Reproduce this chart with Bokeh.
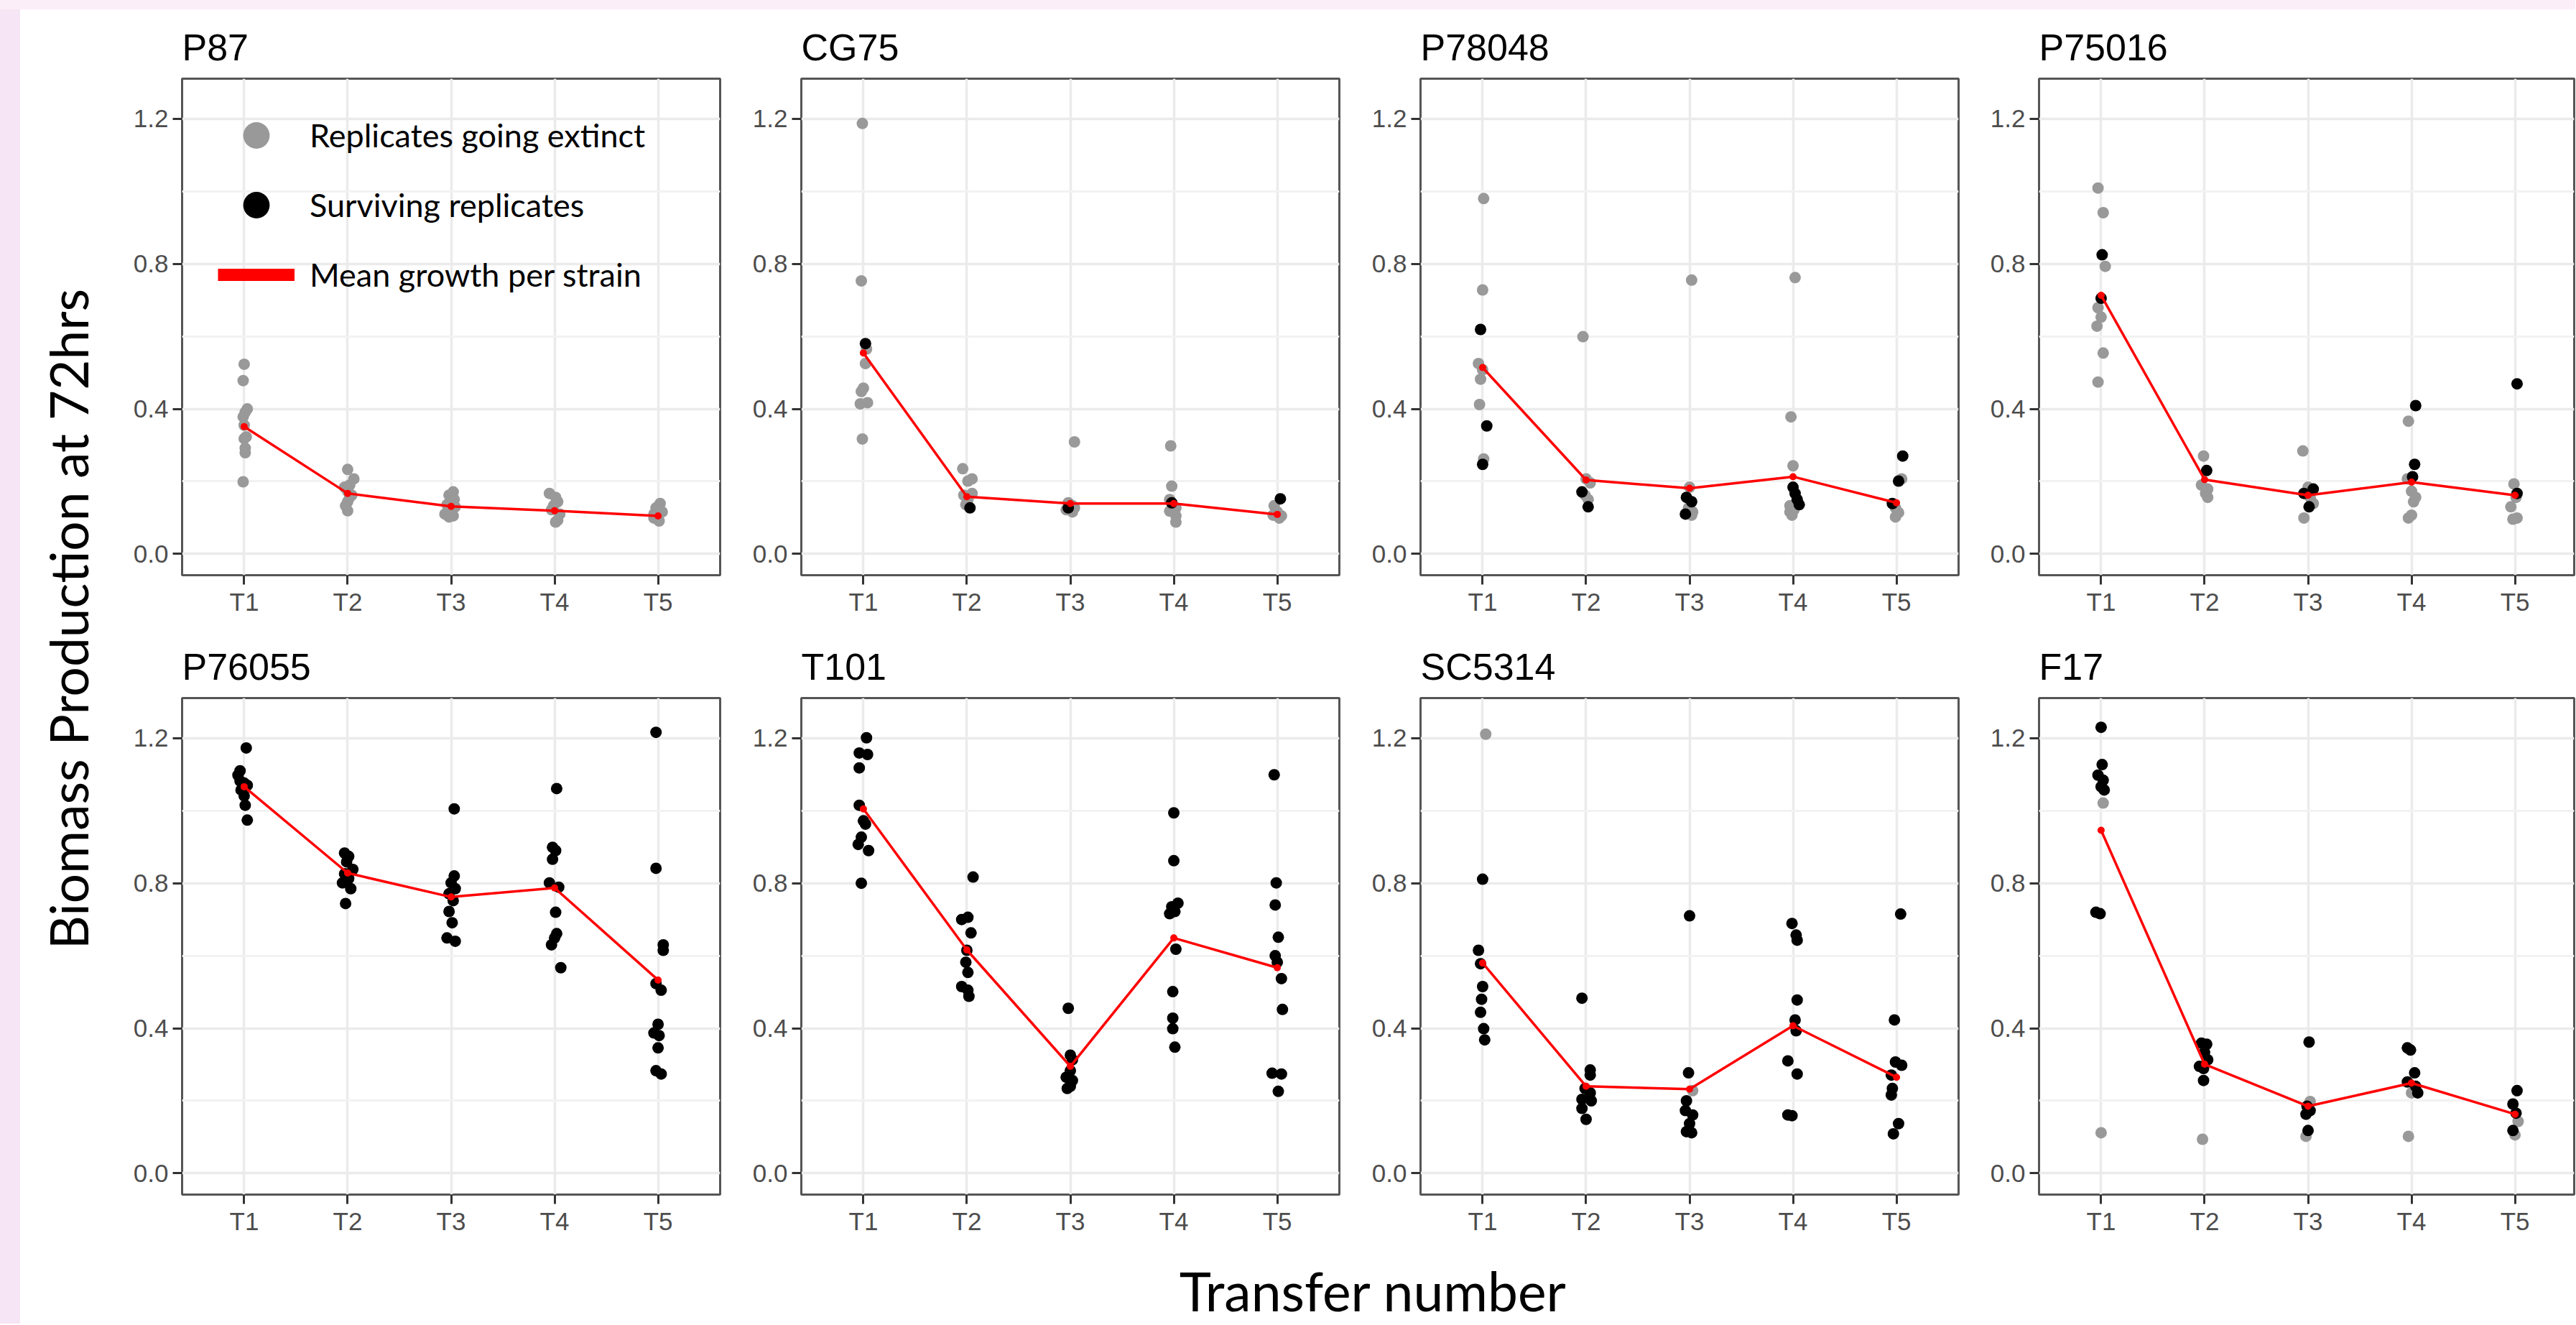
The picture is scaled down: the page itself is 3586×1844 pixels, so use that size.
import math
from bokeh.plotting import figure
from bokeh.models import (Range1d, FixedTicker, PrintfTickFormatter, Label,
                          Legend, LegendItem, ColumnDataSource, Spacer)
from bokeh.layouts import row, column
from bokeh.embed import file_html
from bokeh.resources import INLINE

transfers = ["T1", "T2", "T3", "T4", "T5"]
y_ticks = [0.0, 0.4, 0.8, 1.2]
y_minor = [0.2, 0.6, 1.0]

# each point: (transfer, horizontal jitter, biomass)
P87_extinct = [
    ("T1", 0.00, 0.523), ("T1", -0.01, 0.478), ("T1", 0.03, 0.400), ("T1", 0.01, 0.391),
    ("T1", -0.01, 0.378), ("T1", 0.00, 0.355), ("T1", 0.02, 0.323), ("T1", 0.00, 0.318),
    ("T1", 0.01, 0.292), ("T1", 0.01, 0.279), ("T1", -0.01, 0.199),
    ("T2", 0.00, 0.233), ("T2", 0.06, 0.207), ("T2", 0.02, 0.190), ("T2", 0.00, 0.173),
    ("T2", 0.04, 0.162), ("T2", 0.00, 0.144), ("T2", -0.02, 0.133), ("T2", 0.00, 0.119),
    ("T2", -0.03, 0.184), ("T2", 0.02, 0.156),
    ("T3", 0.02, 0.171), ("T3", -0.02, 0.162), ("T3", 0.03, 0.150), ("T3", -0.04, 0.136),
    ("T3", 0.04, 0.130), ("T3", -0.02, 0.122), ("T3", -0.06, 0.110), ("T3", 0.02, 0.105),
    ("T3", -0.02, 0.102),
    ("T4", -0.05, 0.167), ("T4", 0.01, 0.156), ("T4", 0.03, 0.144), ("T4", -0.01, 0.133),
    ("T4", -0.03, 0.122), ("T4", 0.05, 0.110), ("T4", 0.03, 0.093), ("T4", 0.01, 0.088),
    ("T5", 0.02, 0.139), ("T5", -0.02, 0.127), ("T5", 0.04, 0.116), ("T5", 0.00, 0.105),
    ("T5", -0.04, 0.099), ("T5", 0.01, 0.091), ("T5", -0.04, 0.110),
]
P87_surviving = []
P87_mean = [0.351, 0.167, 0.131, 0.119, 0.105]

CG75_extinct = [
    ("T1", -0.01, 1.187), ("T1", -0.02, 0.753), ("T1", 0.03, 0.565), ("T1", 0.02, 0.525),
    ("T1", 0.00, 0.457), ("T1", -0.02, 0.448), ("T1", 0.04, 0.417), ("T1", -0.03, 0.414),
    ("T1", -0.01, 0.317),
    ("T2", -0.04, 0.235), ("T2", 0.05, 0.207), ("T2", 0.01, 0.201), ("T2", 0.05, 0.167),
    ("T2", -0.03, 0.162), ("T2", 0.01, 0.150), ("T2", -0.01, 0.136),
    ("T3", 0.04, 0.309), ("T3", -0.02, 0.141), ("T3", 0.02, 0.133), ("T3", -0.04, 0.122),
    ("T3", 0.02, 0.116), ("T3", 0.04, 0.127),
    ("T4", -0.03, 0.298), ("T4", -0.02, 0.187), ("T4", -0.04, 0.150), ("T4", 0.02, 0.127),
    ("T4", -0.04, 0.118), ("T4", 0.02, 0.105), ("T4", 0.02, 0.088),
    ("T5", -0.03, 0.133), ("T5", 0.00, 0.116), ("T5", -0.04, 0.107), ("T5", 0.02, 0.099),
    ("T5", 0.04, 0.105),
]
CG75_surviving = [
    ("T1", 0.02, 0.580), ("T2", 0.03, 0.127), ("T3", -0.02, 0.127),
    ("T4", -0.02, 0.141), ("T5", 0.03, 0.152),
]
CG75_mean = [0.554, 0.158, 0.139, 0.139, 0.109]

P78048_extinct = [
    ("T1", 0.01, 0.980), ("T1", 0.00, 0.728), ("T1", -0.04, 0.525), ("T1", 0.00, 0.508),
    ("T1", -0.02, 0.482), ("T1", -0.03, 0.412), ("T1", 0.01, 0.262),
    ("T2", -0.03, 0.599), ("T2", 0.00, 0.207), ("T2", 0.04, 0.196), ("T2", -0.01, 0.162),
    ("T2", 0.02, 0.150),
    ("T3", 0.02, 0.755), ("T3", 0.00, 0.184), ("T3", -0.01, 0.127), ("T3", 0.03, 0.116),
    ("T3", 0.02, 0.107),
    ("T4", 0.02, 0.762), ("T4", -0.02, 0.378), ("T4", 0.00, 0.243), ("T4", -0.03, 0.133),
    ("T4", 0.01, 0.122), ("T4", -0.01, 0.107), ("T4", -0.03, 0.116),
    ("T5", 0.05, 0.207), ("T5", -0.01, 0.127), ("T5", 0.02, 0.114), ("T5", -0.01, 0.102),
]
P78048_surviving = [
    ("T1", -0.02, 0.619), ("T1", 0.04, 0.353), ("T1", 0.00, 0.247),
    ("T2", -0.04, 0.171), ("T2", 0.02, 0.130),
    ("T3", -0.03, 0.156), ("T3", 0.02, 0.144), ("T3", -0.04, 0.110),
    ("T4", 0.00, 0.184), ("T4", 0.02, 0.167), ("T4", 0.04, 0.150), ("T4", 0.06, 0.136),
    ("T5", 0.06, 0.270), ("T5", 0.02, 0.201), ("T5", -0.04, 0.139),
]
P78048_mean = [0.514, 0.204, 0.181, 0.213, 0.141]

P75016_extinct = [
    ("T1", -0.03, 1.009), ("T1", 0.02, 0.941), ("T1", 0.04, 0.793), ("T1", -0.03, 0.679),
    ("T1", 0.00, 0.653), ("T1", -0.04, 0.628), ("T1", 0.02, 0.554), ("T1", -0.03, 0.474),
    ("T2", -0.01, 0.270), ("T2", -0.03, 0.190), ("T2", 0.03, 0.179), ("T2", 0.01, 0.167),
    ("T2", 0.03, 0.156),
    ("T3", -0.05, 0.284), ("T3", 0.00, 0.184), ("T3", 0.02, 0.156), ("T3", 0.05, 0.139),
    ("T3", -0.04, 0.099),
    ("T4", -0.03, 0.366), ("T4", -0.04, 0.207), ("T4", 0.00, 0.173), ("T4", 0.04, 0.156),
    ("T4", 0.02, 0.144), ("T4", 0.00, 0.107), ("T4", -0.03, 0.099),
    ("T5", -0.01, 0.193), ("T5", 0.01, 0.156), ("T5", -0.04, 0.130), ("T5", 0.02, 0.099),
    ("T5", -0.02, 0.096),
]
P75016_surviving = [
    ("T1", 0.01, 0.825), ("T1", 0.00, 0.705),
    ("T2", 0.02, 0.230),
    ("T3", 0.05, 0.179), ("T3", -0.04, 0.167), ("T3", 0.01, 0.130),
    ("T4", 0.04, 0.409), ("T4", 0.03, 0.247), ("T4", 0.01, 0.213),
    ("T5", 0.02, 0.469), ("T5", 0.02, 0.167),
]
P75016_mean = [0.713, 0.205, 0.162, 0.198, 0.162]

P76055_extinct = []
P76055_surviving = [
    ("T1", 0.02, 1.173), ("T1", -0.04, 1.110), ("T1", -0.06, 1.098), ("T1", -0.04, 1.082),
    ("T1", 0.03, 1.070), ("T1", -0.03, 1.057), ("T1", 0.00, 1.041), ("T1", 0.01, 1.015),
    ("T1", 0.03, 0.974), ("T1", 0.00, 1.076),
    ("T2", -0.03, 0.883), ("T2", 0.01, 0.874), ("T2", -0.01, 0.859), ("T2", 0.05, 0.838),
    ("T2", -0.03, 0.826), ("T2", 0.01, 0.813), ("T2", -0.05, 0.801), ("T2", 0.03, 0.785),
    ("T2", -0.02, 0.744),
    ("T3", 0.03, 1.005), ("T3", 0.03, 0.820), ("T3", 0.00, 0.801), ("T3", 0.04, 0.785),
    ("T3", -0.02, 0.771), ("T3", 0.02, 0.752), ("T3", -0.02, 0.722), ("T3", 0.01, 0.691),
    ("T3", -0.04, 0.649), ("T3", 0.04, 0.640),
    ("T4", 0.02, 1.061), ("T4", -0.02, 0.899), ("T4", 0.01, 0.890), ("T4", -0.02, 0.866),
    ("T4", -0.05, 0.801), ("T4", 0.04, 0.789), ("T4", 0.01, 0.720), ("T4", 0.02, 0.661),
    ("T4", 0.00, 0.649), ("T4", -0.03, 0.630), ("T4", 0.06, 0.567),
    ("T5", -0.02, 1.216), ("T5", -0.02, 0.841), ("T5", 0.05, 0.630), ("T5", 0.05, 0.615),
    ("T5", -0.02, 0.523), ("T5", 0.03, 0.505), ("T5", 0.00, 0.411), ("T5", -0.04, 0.387),
    ("T5", 0.01, 0.380), ("T5", 0.00, 0.346), ("T5", -0.02, 0.283), ("T5", 0.03, 0.274),
]
P76055_mean = [1.066, 0.828, 0.762, 0.787, 0.533]

T101_extinct = []
T101_surviving = [
    ("T1", 0.03, 1.201), ("T1", -0.04, 1.159), ("T1", 0.04, 1.155), ("T1", -0.04, 1.118),
    ("T1", -0.04, 1.015), ("T1", 0.00, 0.972), ("T1", 0.02, 0.963), ("T1", -0.02, 0.927),
    ("T1", -0.05, 0.907), ("T1", 0.05, 0.890), ("T1", -0.02, 0.800),
    ("T2", 0.06, 0.817), ("T2", 0.01, 0.706), ("T2", -0.05, 0.700), ("T2", 0.04, 0.663),
    ("T2", 0.00, 0.615), ("T2", -0.01, 0.582), ("T2", 0.01, 0.554), ("T2", -0.05, 0.515),
    ("T2", 0.01, 0.505), ("T2", 0.02, 0.488),
    ("T3", -0.02, 0.455), ("T3", 0.00, 0.326), ("T3", 0.02, 0.313), ("T3", 0.00, 0.283),
    ("T3", -0.04, 0.265), ("T3", 0.02, 0.256), ("T3", 0.00, 0.240), ("T3", -0.03, 0.234),
    ("T4", 0.00, 0.994), ("T4", 0.00, 0.862), ("T4", 0.04, 0.745), ("T4", -0.02, 0.735),
    ("T4", 0.01, 0.722), ("T4", -0.04, 0.716), ("T4", 0.02, 0.618), ("T4", -0.01, 0.501),
    ("T4", -0.01, 0.428), ("T4", -0.01, 0.399), ("T4", 0.01, 0.348),
    ("T5", -0.03, 1.099), ("T5", -0.01, 0.801), ("T5", -0.02, 0.740), ("T5", 0.01, 0.651),
    ("T5", -0.02, 0.600), ("T5", 0.00, 0.582), ("T5", 0.04, 0.537), ("T5", 0.05, 0.452),
    ("T5", -0.05, 0.276), ("T5", 0.04, 0.274), ("T5", 0.01, 0.226),
]
T101_mean = [1.005, 0.616, 0.295, 0.649, 0.567]

SC5314_extinct = [("T1", 0.03, 1.211), ("T3", 0.03, 0.228)]
SC5314_surviving = [
    ("T1", 0.00, 0.811), ("T1", -0.04, 0.615), ("T1", -0.02, 0.578), ("T1", 0.00, 0.515),
    ("T1", -0.01, 0.480), ("T1", -0.02, 0.444), ("T1", 0.01, 0.399), ("T1", 0.02, 0.368),
    ("T2", -0.04, 0.483), ("T2", 0.04, 0.285), ("T2", 0.04, 0.271), ("T2", -0.01, 0.234),
    ("T2", 0.04, 0.222), ("T2", -0.04, 0.204), ("T2", 0.05, 0.200), ("T2", -0.04, 0.179),
    ("T2", 0.00, 0.149),
    ("T3", 0.00, 0.710), ("T3", -0.01, 0.277), ("T3", -0.03, 0.200), ("T3", -0.04, 0.173),
    ("T3", 0.03, 0.161), ("T3", 0.00, 0.137), ("T3", -0.03, 0.115), ("T3", 0.02, 0.112),
    ("T4", -0.01, 0.689), ("T4", 0.03, 0.657), ("T4", 0.04, 0.643), ("T4", 0.04, 0.478),
    ("T4", 0.02, 0.423), ("T4", 0.03, 0.393), ("T4", -0.05, 0.310), ("T4", 0.04, 0.274),
    ("T4", -0.05, 0.161), ("T4", -0.01, 0.159),
    ("T5", 0.04, 0.715), ("T5", -0.02, 0.423), ("T5", -0.01, 0.307), ("T5", 0.05, 0.298),
    ("T5", -0.05, 0.271), ("T5", -0.04, 0.234), ("T5", -0.05, 0.216), ("T5", 0.02, 0.137),
    ("T5", -0.03, 0.109),
]
SC5314_mean = [0.580, 0.240, 0.232, 0.407, 0.265]

F17_extinct = [
    ("T1", 0.02, 1.021), ("T1", 0.00, 0.112), ("T2", -0.02, 0.094),
    ("T3", 0.02, 0.198), ("T3", -0.02, 0.102), ("T4", 0.00, 0.222), ("T4", -0.03, 0.102),
    ("T5", 0.03, 0.143), ("T5", 0.00, 0.106),
]
F17_surviving = [
    ("T1", 0.00, 1.230), ("T1", 0.01, 1.127), ("T1", -0.03, 1.098), ("T1", 0.02, 1.084),
    ("T1", 0.00, 1.066), ("T1", 0.03, 1.057), ("T1", -0.05, 0.720), ("T1", -0.01, 0.716),
    ("T2", -0.03, 0.359), ("T2", 0.02, 0.356), ("T2", 0.00, 0.334), ("T2", 0.03, 0.313),
    ("T2", -0.05, 0.295), ("T2", -0.01, 0.289), ("T2", -0.01, 0.256),
    ("T3", 0.01, 0.362), ("T3", -0.01, 0.185), ("T3", 0.02, 0.173), ("T3", -0.02, 0.163),
    ("T3", 0.00, 0.118),
    ("T4", -0.04, 0.346), ("T4", -0.01, 0.340), ("T4", 0.03, 0.277), ("T4", -0.04, 0.252),
    ("T4", 0.04, 0.240), ("T4", 0.06, 0.222),
    ("T5", 0.02, 0.228), ("T5", -0.02, 0.191), ("T5", 0.01, 0.166), ("T5", -0.02, 0.118),
]
F17_mean = [0.946, 0.301, 0.185, 0.249, 0.163]

strains = [
    ("P87", P87_extinct, P87_surviving, P87_mean),
    ("CG75", CG75_extinct, CG75_surviving, CG75_mean),
    ("P78048", P78048_extinct, P78048_surviving, P78048_mean),
    ("P75016", P75016_extinct, P75016_surviving, P75016_mean),
    ("P76055", P76055_extinct, P76055_surviving, P76055_mean),
    ("T101", T101_extinct, T101_surviving, T101_mean),
    ("SC5314", SC5314_extinct, SC5314_surviving, SC5314_mean),
    ("F17", F17_extinct, F17_surviving, F17_mean),
]

legend_labels = ["Replicates going extinct", "Surviving replicates", "Mean growth per strain"]
y_title = "Biomass Production at 72hrs"
x_title = "Transfer number"

GREY = "#999999"
BLACK = "#000000"
RED = "#FF0000"
PX_PER_UNIT = 144.04
FRAME_H = 691
COL_FRAME_W = [749, 749, 749, 745]
COL_LEFT = [103, 109, 109, 108]
COL_RIGHT = [4, 4, 4, 2]
NAN = float("nan")


def to_source(points):
    xs = [transfers.index(t) + 1 + dx for (t, dx, v) in points]
    ys = [v for (t, dx, v) in points]
    return ColumnDataSource(data=dict(x=xs, y=ys))


def make_panel(name, extinct, surviving, mean, col, with_legend):
    fw = COL_FRAME_W[col]
    p = figure(frame_width=fw, frame_height=FRAME_H,
               x_range=Range1d(0.4, 0.4 + fw / PX_PER_UNIT),
               y_range=Range1d(-0.0586, 1.3105),
               output_backend="svg", toolbar_location=None, title=name,
               min_border_left=COL_LEFT[col], min_border_right=COL_RIGHT[col],
               min_border_top=96, min_border_bottom=75)
    p.background_fill_color = "white"
    p.border_fill_color = "white"
    p.outline_line_color = "#555555"
    p.outline_line_width = 3

    p.title.text_font = "Liberation Sans"
    p.title.text_font_size = "52px"
    p.title.text_font_style = "normal"
    p.title.text_color = "#000000"
    p.title.align = "left"
    p.title.offset = 0
    p.title.vertical_align = "top"
    p.title.standoff = 25

    xt = FixedTicker(ticks=list(range(1, len(transfers) + 1)))
    yt = FixedTicker(ticks=y_ticks, minor_ticks=y_minor)
    p.xaxis.ticker = xt
    p.yaxis.ticker = yt
    p.xgrid.ticker = xt
    p.ygrid.ticker = yt
    p.xaxis.major_label_overrides = {i + 1: t for i, t in enumerate(transfers)}
    p.yaxis.formatter = PrintfTickFormatter(format="%.1f")
    for ax in (p.xaxis, p.yaxis):
        ax.axis_line_color = None
        ax.major_tick_line_color = "#333333"
        ax.major_tick_line_width = 3
        ax.major_tick_out = 13
        ax.major_tick_in = 0
        ax.minor_tick_line_color = None
        ax.major_label_text_font = "Liberation Sans"
        ax.major_label_text_font_size = "35px"
        ax.major_label_text_color = "#4D4D4D"
    p.yaxis.major_label_standoff = 6
    p.xaxis.major_label_standoff = 4

    p.xgrid.grid_line_color = "#EBEBEB"
    p.xgrid.grid_line_width = 3.5
    p.ygrid.grid_line_color = "#EBEBEB"
    p.ygrid.grid_line_width = 3.5
    p.ygrid.minor_grid_line_color = "#F2F2F2"
    p.ygrid.minor_grid_line_width = 3

    p.scatter(x="x", y="y", source=to_source(extinct), size=16,
              fill_color=GREY, line_color=None)
    p.scatter(x="x", y="y", source=to_source(surviving), size=16,
              fill_color=BLACK, line_color=None)
    mx = list(range(1, len(transfers) + 1))
    p.line(x=mx, y=mean, line_color=RED, line_width=3.5)
    p.scatter(x=mx, y=mean, size=10, fill_color=RED, line_color=None)

    if with_legend:
        # key glyphs only (a single missing value, so nothing is drawn in the panel)
        k_ext = p.scatter(x=[NAN], y=[NAN], size=16, fill_color=GREY, line_color=None)
        k_surv = p.scatter(x=[NAN], y=[NAN], size=16, fill_color=BLACK, line_color=None)
        k_mean = p.line(x=[NAN], y=[NAN], line_color=RED, line_width=17)
        legend = Legend(items=[LegendItem(label=legend_labels[0], renderers=[k_ext]),
                               LegendItem(label=legend_labels[1], renderers=[k_surv]),
                               LegendItem(label=legend_labels[2], renderers=[k_mean])],
                        location=(50, 372), orientation="vertical",
                        glyph_width=107, glyph_height=92, spacing=5, padding=0,
                        label_standoff=21, label_text_font="Lato",
                        label_text_font_size="45px", label_text_color="#000000",
                        label_text_baseline="middle",
                        background_fill_alpha=0, border_line_color=None)
        p.add_layout(legend)
    return p


panels = []
for i, (name, ext, surv, mean) in enumerate(strains):
    panels.append(make_panel(name, ext, surv, mean, i % 4, i == 0))

grid = column(row(*panels[:4]), row(*panels[4:]))

GRID_H = 2 * (96 + FRAME_H + 75)
TOP_STRIP = 13
LEFT_STRIP = 28
YLAB_W = 122
XLAB_H = 105
TOTAL_W = LEFT_STRIP + YLAB_W + sum(COL_LEFT) + sum(COL_FRAME_W) + sum(COL_RIGHT)

ylab = figure(frame_width=YLAB_W, frame_height=GRID_H, x_range=Range1d(0, 1), y_range=Range1d(0, 1),
              output_backend="svg", toolbar_location=None, min_border=0,
              x_axis_location=None, y_axis_location=None)
ylab.grid.visible = False
ylab.outline_line_color = None
ylab.add_layout(Label(x=66, y=GRID_H - 848, x_units="screen", y_units="screen",
                      text=y_title, angle=math.pi / 2, text_align="center",
                      text_baseline="alphabetic", text_font="Lato",
                      text_font_size="73px", text_color="#000000"))

xlab = figure(frame_width=TOTAL_W - LEFT_STRIP, frame_height=XLAB_H,
              x_range=Range1d(0, 1), y_range=Range1d(0, 1),
              output_backend="svg", toolbar_location=None, min_border=0,
              x_axis_location=None, y_axis_location=None)
xlab.grid.visible = False
xlab.outline_line_color = None
xlab.add_layout(Label(x=1883, y=47, x_units="screen", y_units="screen",
                      text=x_title, text_align="center", text_baseline="alphabetic",
                      text_font="Lato", text_font_size="75px", text_color="#000000"))

top_strip = Spacer(width=TOTAL_W, height=TOP_STRIP, styles={"background-color": "#FCEEF8"})
left_strip = Spacer(width=LEFT_STRIP, height=GRID_H + XLAB_H,
                    styles={"background-color": "#F6E5F5"})

page = column(top_strip, row(left_strip, column(row(ylab, grid), xlab)))

open("out.html", "w").write(file_html(page, INLINE))
